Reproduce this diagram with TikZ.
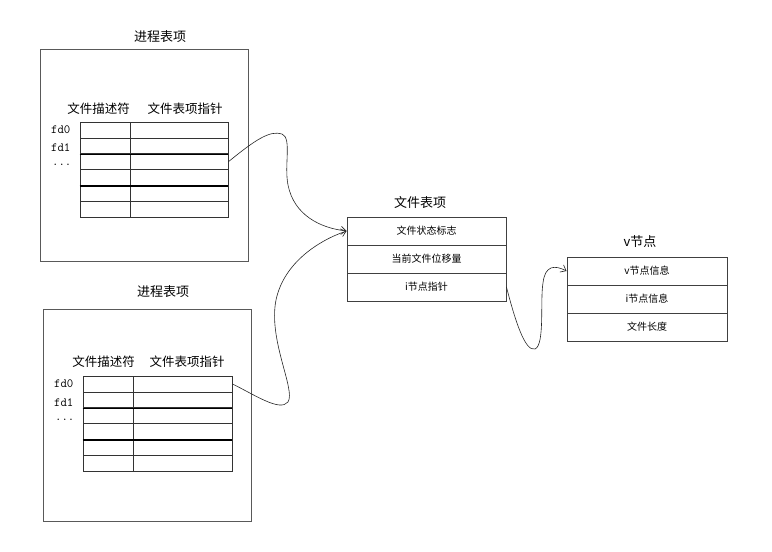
\documentclass[tikz,border=0pt]{standalone}
\usepackage{fontspec}
\newfontfamily\cjk{Noto Sans CJK SC}
\usetikzlibrary{positioning,arrows.meta}
\tikzset{
  boxline/.style={draw=black!65, line width=0.9pt},
  title/.style={font={\cjk\fontsize{13}{15}\selectfont}, inner sep=0pt},
  head/.style={font={\cjk\fontsize{12.5}{15}\selectfont}, inner sep=0pt},
  fdlabel/.style={font={\ttfamily\fontsize{12.5}{14}\selectfont}, anchor=east, inner sep=0pt},
  fdcell/.style={draw=black!80, line width=0.8pt, minimum width=50pt, minimum height=15.9pt, inner sep=0pt},
  ptrcell/.style={draw=black!80, line width=0.8pt, minimum width=98pt, minimum height=15.9pt, inner sep=0pt},
  entry/.style={draw=black!75, line width=0.9pt, minimum width=159pt, minimum height=28pt, inner sep=0pt,
    font={\cjk\fontsize{10}{12}\selectfont}},
  link/.style={draw=black!85, line width=0.6pt, -{Straight Barb[length=5pt,width=8pt]}}
}

\begin{document}
\begin{tikzpicture}[x=1pt,y=-1pt]
\useasboundingbox (0,0) rectangle (772,552);
% process table entry (top)
\node[title] (procA) at (160,37) {进程表项};
\draw[boxline] (40,49) rectangle (248,261);
\node[head] (headA1) at (98.5,109) {文件描述符};
\node[head] (headA2) at (185,109) {文件表项指针};
\foreach \i in {1,...,6} {
  \node[fdcell] (fdA\i) at (105,{122+15.9*\i-7.95}) {};
  \node[ptrcell] (ptrA\i) at (179,{122+15.9*\i-7.95}) {};
}
\draw[line width=1.4pt] (fdA2.south west) -- (ptrA2.south east);
\draw[line width=1.4pt] (fdA4.south west) -- (ptrA4.south east);
\node[fdlabel] (fdA0lab) at ([xshift=-9pt,yshift=0pt]fdA1.west) {fd0};
\node[fdlabel] (fdA1lab) at ([xshift=-9pt,yshift=-2pt]fdA2.west) {fd1};
\node[fdlabel] (fdAdots) at ([xshift=-8pt,yshift=-3pt]fdA3.west) {...};

% process table entry (bottom)
\node[title] (procB) at (163,292) {进程表项};
\draw[boxline] (43,309) rectangle (251,521);
\node[head] (headB1) at (103.5,362) {文件描述符};
\node[head] (headB2) at (187,362) {文件表项指针};
\foreach \i in {1,...,6} {
  \node[fdcell] (fdB\i) at (108,{376+15.9*\i-7.95}) {};
  \node[ptrcell, minimum width=99pt] (ptrB\i) at (182.5,{376+15.9*\i-7.95}) {};
}
\draw[line width=1.4pt] (fdB2.south west) -- (ptrB2.south east);
\draw[line width=1.4pt] (fdB4.south west) -- (ptrB4.south east);
\node[fdlabel] (fdB0lab) at ([xshift=-9pt,yshift=0pt]fdB1.west) {fd0};
\node[fdlabel] (fdB1lab) at ([xshift=-9pt,yshift=-3pt]fdB2.west) {fd1};
\node[fdlabel] (fdBdots) at ([xshift=-8pt,yshift=-4pt]fdB3.west) {...};

% file table entry
\node[title] (filetab) at (420,203) {文件表项};
\node[entry] (ft1) at (426.5,231) {文件状态标志};
\node[entry] (ft2) at (426.5,259) {当前文件位移量};
\node[entry] (ft3) at (426.5,287) {i节点指针};

% v-node
\node[title] (vnode) at (640,242) {v节点};
\node[entry, minimum width=160pt] (vn1) at (647,271) {v节点信息};
\node[entry, minimum width=160pt] (vn2) at (647,299) {i节点信息};
\node[entry, minimum width=160pt] (vn3) at (647,327) {文件长度};

% pointers
\draw[link] (ptrA3.east) .. controls (255,140) and (270,130) .. (282,134)
  .. controls (292,138) and (284,165) .. (288,185)
  .. controls (294,215) and (320,228) .. (ft1.west);
\draw[link] (ptrB1.east) .. controls (255,395) and (280,412) .. (288,402)
  .. controls (296,390) and (268,340) .. (276,300)
  .. controls (284,262) and (320,240) .. (ft1.west);
\draw[link] (ft3.east) .. controls (515,320) and (525,352) .. (535,349)
  .. controls (545,345) and (540,300) .. (543,283)
  .. controls (545,265) and (555,265) .. (vn1.west);
\end{tikzpicture}
\end{document}
